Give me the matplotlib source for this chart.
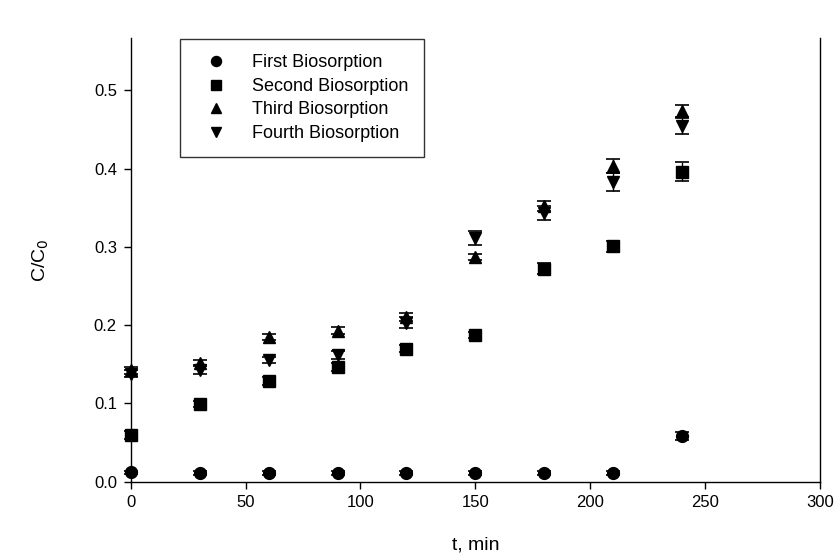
import numpy as np
import matplotlib
matplotlib.use('Agg')
import matplotlib.pyplot as plt

plt.rcParams['font.family'] = ['Liberation Sans', 'DejaVu Sans']

t = [0, 30, 60, 90, 120, 150, 180, 210, 240]  # time, min

first = [0.012, 0.011, 0.011, 0.011, 0.011, 0.011, 0.011, 0.011, 0.058]
second = [0.060, 0.099, 0.128, 0.146, 0.170, 0.187, 0.272, 0.301, 0.396]
third = [0.142, 0.152, 0.185, 0.193, 0.210, 0.287, 0.352, 0.403, 0.473]
fourth = [0.138, 0.143, 0.155, 0.162, 0.203, 0.311, 0.343, 0.383, 0.455]

first_err = [0.002, 0.002, 0.002, 0.002, 0.002, 0.002, 0.002, 0.002, 0.005]
second_err = [0.005, 0.004, 0.005, 0.005, 0.004, 0.004, 0.007, 0.007, 0.012]
third_err = [0.004, 0.004, 0.004, 0.004, 0.005, 0.004, 0.006, 0.009, 0.008]
fourth_err = [0.005, 0.006, 0.004, 0.005, 0.007, 0.009, 0.009, 0.011, 0.011]

labels = ['First Biosorption', 'Second Biosorption', 'Third Biosorption', 'Fourth Biosorption']
series = [first, second, third, fourth]
errs = [first_err, second_err, third_err, fourth_err]
markers = ['o', 's', '^', 'v']

fig = plt.figure(figsize=(8.39, 5.58), dpi=100)
ax = fig.add_axes([0.156, 0.137, 0.821, 0.795])

for y, e, m, lab in zip(series, errs, markers, labels):
    ax.errorbar(t, y, yerr=e, fmt='none', ecolor='black', elinewidth=1.0,
                capsize=4.7, capthick=1.2, clip_on=False)
    ax.plot(t, y, m, color='black', markersize=8.5, linestyle='none', label=lab,
            clip_on=False)

ax.set_xlim(0, 300)
ax.set_ylim(0, 0.567)
ax.set_xticks([0, 50, 100, 150, 200, 250, 300])
ax.set_yticks([0.0, 0.1, 0.2, 0.3, 0.4, 0.5])
ax.set_yticklabels(['0.0', '0.1', '0.2', '0.3', '0.4', '0.5'])
ax.spines['top'].set_visible(False)
for s in ['left', 'right', 'bottom']:
    ax.spines[s].set_linewidth(1.0)
ax.tick_params(direction='out', length=5, width=1, labelsize=12, pad=5)

ax.set_xlabel('t, min', fontsize=14, labelpad=19)
ax.set_ylabel('C/C$_0$', fontsize=14, labelpad=31)

leg = ax.legend(loc='upper left', bbox_to_anchor=(180 / 839, 1 - 39 / 558),
                bbox_transform=fig.transFigure, fontsize=13, frameon=True,
                fancybox=False, borderaxespad=0, borderpad=0.85,
                handletextpad=0.85, handlelength=2.3, labelspacing=0.36,
                markerscale=0.85)
leg.get_frame().set_edgecolor('black')
leg.get_frame().set_linewidth(1.0)

plt.savefig('out.png', dpi=100)
